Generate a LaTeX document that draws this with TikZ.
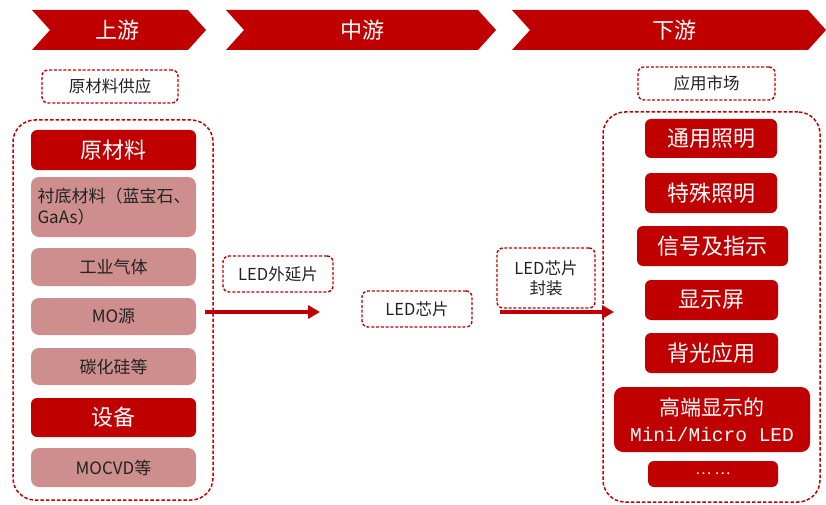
\documentclass[tikz,border=0pt]{standalone}
\usepackage{fontspec}
\setmainfont{Noto Sans CJK SC}
\newfontfamily\latinmono{Liberation Mono}
\usepackage{tikz}
\usetikzlibrary{arrows.meta,positioning}
\definecolor{deepred}{RGB}{192,0,0}
\definecolor{rosebox}{RGB}{206,142,142}
\definecolor{inkgray}{RGB}{34,34,34}
\tikzset{
	stage/.style={fill=deepred},
	stage text/.style={text=white,font=\fontsize{22}{26}\selectfont},
	panel/.style={draw=deepred,line width=1.5pt,dash pattern=on 3.5pt off 2pt,
		rounded corners=22pt,inner sep=0pt},
	tag/.style={draw=deepred,line width=1.4pt,dash pattern=on 3pt off 1.8pt,
		rounded corners=6pt,text=inkgray,align=center,inner sep=2pt,
		font=\fontsize{16.5}{20}\selectfont},
	head/.style={fill=deepred,rounded corners=6pt,text=white,align=center,
		inner sep=2pt,font=\fontsize{22}{27}\selectfont},
	item/.style={fill=rosebox,rounded corners=8pt,text=inkgray,align=center,
		inner sep=2pt,minimum width=165pt,font=\fontsize{17}{21}\selectfont},
	flow/.style={deepred,line width=3.2pt,-{Triangle[length=12pt,width=13pt]}}
}

\begin{document}
\begin{tikzpicture}[x=1pt,y=-1pt]
    \useasboundingbox (0,0) rectangle (826,505);
    % three stages
    \foreach \l/\r/\c/\t/\n in {32/188/117/上游/up, 226/478/362/中游/mid, 512/808/674/下游/down}{
      \fill[stage] (\l,10) -- (\r,10) -- (\r+18,30) -- (\r,50) -- (\l,50) -- (\l+18,30) -- cycle;
      \node[stage text] (st\n) at (\c,30) {\t};
    }
    \node[tag,minimum width=136pt,minimum height=33pt] (supply) at (110,86.5) {原材料供应};
    \node[tag,minimum width=137pt,minimum height=33pt] (market) at (706.5,83.5) {应用市场};
    \node[panel,minimum width=200pt,minimum height=380pt] (upbox) at (113,310) {};
    \node[panel,minimum width=217pt,minimum height=390pt] (downbox) at (711.5,307) {};

    \node[head,minimum width=165pt,minimum height=40pt] (raw) at (113.5,150) {原材料};
    \node[item,minimum height=60pt,text width=152pt,align=left] (subs) at (113.5,207)
      {衬底材料（蓝宝石、\\GaAs）};
    \node[item,minimum height=38pt] (gas) at (113.5,267) {工业气体};
    \node[item,minimum height=37pt] (mosrc) at (113.5,316.5) {MO源};
    \node[item,minimum height=37pt] (sic) at (113.5,366.5) {碳化硅等};
    \node[head,minimum width=165pt,minimum height=39pt] (equip) at (113.5,417.5) {设备};
    \node[item,minimum height=39pt] (mocvd) at (113.5,467.5) {MOCVD等};

    \node[tag,minimum width=110pt,minimum height=36pt] (epi) at (278,274) {LED外延片};
    \node[tag,minimum width=110pt,minimum height=36pt] (chip) at (417,309) {LED芯片};
    \node[tag,minimum width=98pt,minimum height=60pt] (pack) at (546,278) {LED芯片\\封装};

    \node[head,minimum width=132pt,minimum height=39pt] (gen) at (711,138.5) {通用照明};
    \node[head,minimum width=132pt,minimum height=40pt] (spec) at (711,193) {特殊照明};
    \node[head,minimum width=151pt,minimum height=40pt] (sig) at (712.5,246) {信号及指示};
    \node[head,minimum width=133pt,minimum height=40pt] (disp) at (711.5,300) {显示屏};
    \node[head,minimum width=133pt,minimum height=40pt] (back) at (711.5,353) {背光应用};
    \node[head,minimum width=196pt,minimum height=65pt,rounded corners=9pt,
      font=\fontsize{21}{26}\selectfont] (mini) at (712,419.5)
      {高端显示的\\{\latinmono\fontsize{19.5}{23}\selectfont Mini/Micro LED}};
    \node[head,minimum width=130pt,minimum height=26pt,font=\fontsize{15}{17}\selectfont]
      (more) at (713,474) {… …};

    \coordinate (in1) at (205,312);
    \coordinate (out1) at (320,312);
    \coordinate (in2) at (500,312);
    \coordinate (out2) at (614,312);
    \draw[flow] (in1) -- (out1);
    \draw[flow] (in2) -- (out2);
\end{tikzpicture}
\end{document}
